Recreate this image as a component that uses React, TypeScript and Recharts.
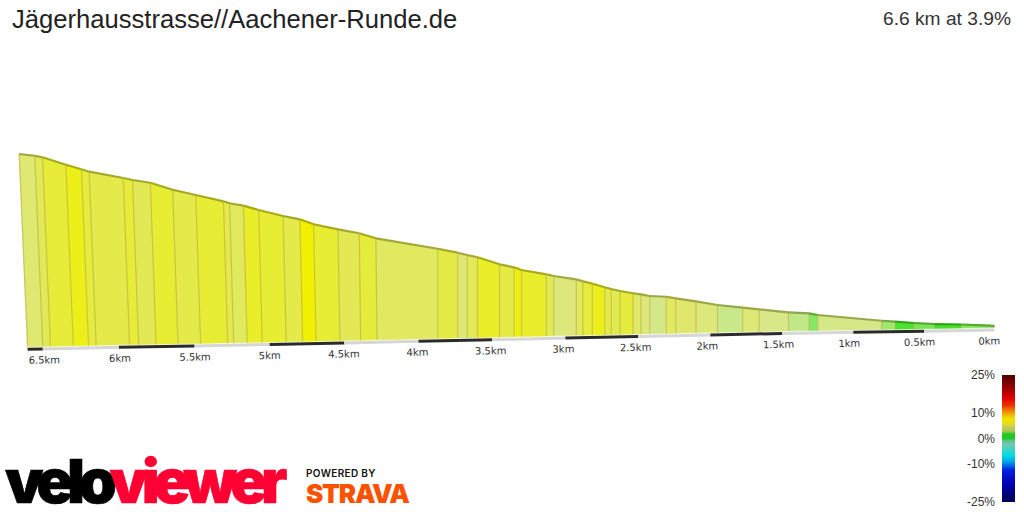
import React from 'react';
import { Area, Bar, ComposedChart, Line, XAxis, YAxis } from 'recharts';

// segment boundaries along the climb, km from the finish
const boundaryKm = [
  6.6, 6.5, 6.45, 6.3, 6.2, 6.15, 5.93, 5.87, 5.755, 5.61, 5.46, 5.28, 5.24, 5.15, 5.05, 4.89, 4.78, 4.69, 4.53,
  4.39, 4.28, 3.87, 3.735, 3.67, 3.6, 3.45, 3.35, 3.3, 3.13, 3.08, 2.925, 2.88, 2.815, 2.73, 2.685, 2.625, 2.535,
  2.48, 2.42, 2.305, 2.24, 2.1, 1.95, 1.775, 1.66, 1.455, 1.31, 1.25, 0.8, 0.705, 0.57, 0.425, 0.235, 0.02, 0,
];

// elevation in metres at each boundary, as projected in the picture
const boundaryElevation = [
  428, 425.7, 423.6, 413.7, 407.6, 404.4, 396, 393.3, 389.7, 380.4, 373.3, 364.9, 362.3, 359.1, 353.3, 345.3, 340.9,
  334.3, 327.6, 322.3, 315.6, 301.7, 296.4, 293.3, 290.3, 280.9, 276.9, 273.3, 267.6, 265.3, 260.9, 258.3, 255.1,
  250.3, 248, 245.3, 242.3, 240.9, 238.7, 237.7, 235.6, 231.6, 226.7, 223.1, 220.9, 216.9, 215.6, 213.3, 205.7,
  204.4, 202.7, 201.3, 200.7, 199.1, 198.7,
];

// gradient of each segment in %
const segmentGrade = [
  3, 3.6, 4.6, 6, 4.4, 4, 4.6, 3.7, 4.8, 4, 4.7, 4, 3.5, 5.2, 4.8, 4, 7, 4.8, 3.7, 4.5, 3.4, 4.2, 3, 3.6, 5.2, 4.2,
  6.3, 5, 3.8, 2.8, 3.5, 4.5, 5.8, 4.2, 3.8, 4.4, 3.2, 2.8, 2.4, 3.4, 3.1, 2.8, 2, 2.9, 2.5, 1.9, 1.1, 2.4, 1.4, 0.4,
  0.9, 0.3, 1, 1,
];

// distance ruler under the profile
const rulerKm = [6.6, 6.5, 6, 5.5, 5, 4.5, 4, 3.5, 3, 2.5, 2, 1.5, 1, 0.5, 0];
const rulerLevel = [167.6, 168, 170.3, 172, 174, 176, 178.3, 180.3, 182.7, 184.7, 186.7, 188.7, 190.3, 191.7, 193.3];

const gradeStops = [0.3, 1, 1.5, 2, 2.5, 3, 4, 5, 6, 7];
const gradeColors = ['#44e02c', '#7ee85a', '#a6e874', '#c8e88a', '#d8e888', '#dfe870', '#e3ea4a', '#e8ee2c', '#ecf018', '#f0f000'];

const legendTicks = [25, 10, 0, -10, -25];
const legendData = [{ name: 'gradient', range: [-25, 25] }];
const legendStops = [
  [25, '#4a0000'], [21, '#8a0000'], [16, '#e00000'], [13, '#f03000'], [11, '#f08000'], [8, '#f0e000'], [6, '#e8e010'],
  [4.5, '#c8c860'], [3, '#b0c850'], [1.6, '#20c820'], [0, '#20c830'], [-1, '#60c890'], [-2.5, '#70c8b0'],
  [-6.5, '#00e0e0'], [-9, '#00a8e8'], [-12.5, '#0020e0'], [-18, '#0000b0'], [-25, '#000050'],
] as const;

const ARIAL = '"Liberation Sans", Arial, sans-serif';
const HEAVY = 'Inter, "Liberation Sans", sans-serif';

const toRgb = (hex: string) => [1, 3, 5].map((i) => parseInt(hex.slice(i, i + 2), 16));

const gradeColor = (grade: number) => {
  let i = 0;
  while (i < gradeStops.length - 2 && grade > gradeStops[i + 1]) i++;
  const t = Math.min(1, Math.max(0, (grade - gradeStops[i]) / (gradeStops[i + 1] - gradeStops[i])));
  const a = toRgb(gradeColors[i]);
  const b = toRgb(gradeColors[i + 1]);
  return `rgb(${a.map((v, k) => Math.round(v + (b[k] - v) * t)).join(',')})`;
};

// darker rim colour for the road surface along the top
const rim = (rgb: string) => {
  const [r, g, b] = rgb.slice(4, -1).split(',').map(Number);
  return `rgb(${Math.round(r * 0.72)},${Math.round(g * 0.72)},${Math.round(b * 0.55)})`;
};

const lerp = (x0: number, y0: number, x1: number, y1: number, x: number) =>
  x0 === x1 ? y1 : y0 + ((y1 - y0) * (x - x0)) / (x1 - x0);

// ground level of the face, just above the ruler
const footLevel = (km: number) => {
  let i = 0;
  while (i < rulerKm.length - 2 && km < rulerKm[i + 1]) i++;
  return lerp(rulerKm[i], rulerLevel[i], rulerKm[i + 1], rulerLevel[i + 1], km) + 3.3;
};

// verticals lean left towards the far end of the 3d view
const lean = (km: number) => Math.max(0, (km - 3.9) * 0.0204);

// one quad of the profile face, as a range area over the four corner distances
const segmentRows = (i: number) => {
  const a = boundaryKm[i];
  const b = boundaryKm[i + 1];
  const A = a + lean(a);
  const B = b + lean(b);
  const tA = boundaryElevation[i];
  const tB = boundaryElevation[i + 1];
  const fa = footLevel(a);
  const fb = footLevel(b);
  return [A, a, B, b]
    .sort((p, q) => q - p)
    .map((km) => ({
      km,
      range: [km >= a ? lerp(A, tA, a, fa, km) : lerp(a, fa, b, fb, km), km >= B ? lerp(A, tA, B, tB, km) : lerp(B, tB, b, fb, km)],
    }));
};

const topRows = (i: number) => [
  { km: boundaryKm[i] + lean(boundaryKm[i]), level: boundaryElevation[i] },
  { km: boundaryKm[i + 1] + lean(boundaryKm[i + 1]), level: boundaryElevation[i + 1] },
];

const seamRows = (i: number) => [
  { km: boundaryKm[i] + lean(boundaryKm[i]), level: boundaryElevation[i] },
  { km: boundaryKm[i], level: footLevel(boundaryKm[i]) },
];

const rulerRows = (i: number) => [
  { km: rulerKm[i], level: rulerLevel[i] },
  { km: rulerKm[i + 1], level: rulerLevel[i + 1] },
];

const tickRows = rulerKm.slice(1).map((km, i) => ({ km, level: rulerLevel[i + 1] }));

// slight perspective along the distance axis: the far km look wider
function perspectiveScale(dom: number[] = [0, 1], rng: number[] = [0, 1]) {
  const k = 0.04636;
  const s: any = (v: number) => {
    const t = (v - dom[0]) / (dom[1] - dom[0]);
    return rng[0] + (rng[1] - rng[0]) * ((1 - k) * t + k * t * t);
  };
  s.domain = (d?: number[]) => {
    if (!d) return dom;
    dom = d;
    return s;
  };
  s.range = (r?: number[]) => {
    if (!r) return rng;
    rng = r;
    return s;
  };
  s.copy = () => perspectiveScale(dom, rng);
  s.ticks = () => rulerKm;
  return s;
}

const KmLabel = (props: any) => {
  const km = tickRows[props.index].km;
  const x = props.x + km - 5;
  const y = props.y + 11;
  return (
    <text x={x} y={y} textAnchor="middle" dominantBaseline="central" fontSize={10} fontFamily="DejaVu Sans" fill="#333"
      transform={`rotate(-1.15 ${x} ${y})`}>
      {km}km
    </text>
  );
};

const Logo = () => (
  <svg width={430} height={70} style={{ position: 'absolute', left: 0, top: 442 }}>
    <text x={5} y={61} fontFamily={HEAVY} fontWeight={900} fontSize={61} letterSpacing={-6.3} strokeWidth={0.6}>
      <tspan fill="#000" stroke="#000">velo</tspan>
      <tspan fill="#ff0033" stroke="#ff0033">viewer</tspan>
    </text>
    <text x={306} y={35} fontFamily={HEAVY} fontWeight={600} fontSize={10} letterSpacing={0.35} fill="#111">POWERED BY</text>
    <text x={306} y={61} fontFamily={HEAVY} fontWeight={900} fontSize={26} letterSpacing={-1.2} fill="#fc5200">STRAVA</text>
  </svg>
);

export default function App() {
  return (
    <div style={{ position: 'absolute', left: 0, top: 0, width: 1024, height: 512, background: '#fff', overflow: 'hidden' }}>
      <ComposedChart width={1024} height={512} margin={{ top: 0, right: 0, bottom: 0, left: 0 }}>
        <XAxis dataKey="km" type="number" hide reversed scale={perspectiveScale()} domain={[-0.212, 6.78]} allowDataOverflow />
        <YAxis type="number" hide domain={[-49.33, 633.33]} allowDataOverflow />
        {segmentGrade.map((grade, i) => (
          <Area key={`face-${i}`} data={segmentRows(i)} dataKey="range" type="linear" fill={gradeColor(grade)} fillOpacity={1}
            stroke={gradeColor(grade)} strokeWidth={0.5} dot={false} activeDot={false} isAnimationActive={false} />
        ))}
        {boundaryKm.map((_, i) => (
          <Line key={`seam-${i}`} data={seamRows(i)} dataKey="level" type="linear" stroke="#b8a840" strokeOpacity={0.6}
            strokeWidth={1.2} dot={false} activeDot={false} isAnimationActive={false} />
        ))}
        {segmentGrade.map((grade, i) => (
          <Line key={`top-${i}`} data={topRows(i)} dataKey="level" type="linear" stroke={rim(gradeColor(grade))}
            strokeWidth={2.2} dot={false} activeDot={false} isAnimationActive={false} />
        ))}
        {rulerKm.slice(1).map((_, i) => (
          <Line key={`ruler-${i}`} data={rulerRows(i)} dataKey="level" type="linear" stroke={i % 2 === 0 ? '#2b2b2b' : '#d6d6d6'}
            strokeWidth={3} dot={false} activeDot={false} isAnimationActive={false} />
        ))}
        <Line data={tickRows} dataKey="level" type="linear" stroke="none" dot={false} activeDot={false}
          label={(p: any) => <KmLabel key={p.index} {...p} />} isAnimationActive={false} />
      </ComposedChart>

      <div style={{ position: 'absolute', left: 12, top: 5, fontFamily: ARIAL, fontSize: 25.6, color: '#222', whiteSpace: 'nowrap' }}>
        Jägerhausstrasse//Aachener-Runde.de
      </div>
      <div style={{ position: 'absolute', right: 13, top: 8, fontFamily: ARIAL, fontSize: 19.2, color: '#333', whiteSpace: 'nowrap' }}>
        6.6 km at 3.9%
      </div>

      <div style={{ position: 'absolute', left: 950, top: 360 }}>
        <ComposedChart width={74} height={157} data={legendData} barCategoryGap={0} margin={{ top: 15, right: 9, bottom: 15, left: 0 }}>
          <defs>
            <linearGradient id="gradeLegend" x1="0" y1="0" x2="0" y2="1">
              {legendStops.map(([g, c]) => (
                <stop key={g} offset={`${(25 - g) * 2}%`} stopColor={c} />
              ))}
            </linearGradient>
          </defs>
          <XAxis dataKey="name" hide />
          <YAxis type="number" width={52} domain={[-25, 25]} ticks={legendTicks} interval={0} axisLine={false} tickLine={false}
            tickMargin={7} tickSize={0} tickFormatter={(v: number) => `${v}%`} tick={{ fontSize: 12, fontFamily: ARIAL, fill: '#333' }} />
          <Bar dataKey="range" fill="url(#gradeLegend)" isAnimationActive={false} />
        </ComposedChart>
      </div>

      <Logo />
    </div>
  );
}
